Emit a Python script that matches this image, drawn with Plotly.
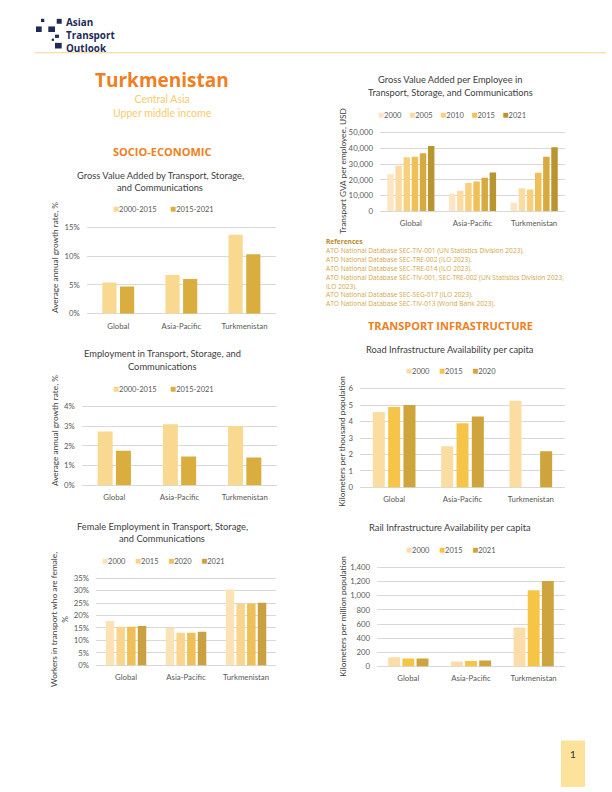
import plotly.graph_objects as go

W, H = 612, 792


def px(x):
    return x / W


def py(y):
    return 1 - y / H


CATS = ["Global", "Asia-Pacific", "Turkmenistan"]

# --- Gross Value Added growth (share) ---
gva_names = ["2000-2015", "2015-2021"]
gva_2000_2015 = [0.054, 0.067, 0.137]
gva_2015_2021 = [0.047, 0.060, 0.103]

# --- Employment growth (share) ---
emp_names = ["2000-2015", "2015-2021"]
emp_2000_2015 = [0.0274, 0.0311, 0.0301]
emp_2015_2021 = [0.0176, 0.0146, 0.0141]

# --- Female employment share ---
fem_names = ["2000", "2015", "2020", "2021"]
fem_2000 = [0.178, 0.151, 0.304]
fem_2015 = [0.155, 0.131, 0.247]
fem_2020 = [0.155, 0.131, 0.248]
fem_2021 = [0.158, 0.135, 0.251]

# --- GVA per employee (USD) ---
gvape_names = ["2000", "2005", "2010", "2015", "2020", "2021"]
gvape_2000 = [23600, 11100, 5400]
gvape_2005 = [28900, 13000, 14600]
gvape_2010 = [34300, 18000, 13800]
gvape_2015 = [34700, 19000, 24500]
gvape_2020 = [36800, 21300, 34700]
gvape_2021 = [41400, 24700, 40600]

# --- Road km per thousand population ---
road_names = ["2000", "2015", "2020"]
road_2000 = [4.58, 2.50, 5.26]
road_2015 = [4.88, 3.90, None]
road_2020 = [5.00, 4.30, 2.20]

# --- Rail km per million population ---
rail_names = ["2000", "2015", "2021"]
rail_2000 = [131, 70, 551]
rail_2015 = [112, 75, 1078]
rail_2021 = [112, 84, 1209]

FONT = "Lato"
HFONT = "Open Sans"
TXT = "#404040"
TICK = "#595959"
GRID = "#D9D9D9"
ORANGE = "#EE7F22"

fig = go.Figure()

charts = [
    dict(series=[gva_2000_2015, gva_2015_2021], names=gva_names,
         colors=["#F9D890", "#D9AD3E"], legend_hide=[], gap=7,
         xpx=(86.7, 276), ypx=(225.7, 313.3), ymax=0.15, dtick=0.05, fmt=".0%",
         w=0.225, g=0.055, leg=(163, 206.7),
         title=["Gross Value Added by Transport, Storage,", "and Communications"],
         tpos=(160, 173, 186), ytitle="Average annual growth rate, %", ypos=(55, 257)),
    dict(series=[emp_2000_2015, emp_2015_2021], names=emp_names,
         colors=["#F9D890", "#D9AD3E"], legend_hide=[], gap=7,
         xpx=(81.7, 277.3), ypx=(407.3, 486.7), ymax=0.04, dtick=0.01, fmt=".0%",
         w=0.23, g=0.05, leg=(163, 388),
         title=["Employment in Transport, Storage, and", "Communications"],
         tpos=(162, 354, 366.7), ytitle="Average annual growth rate, %", ypos=(55, 432)),
    dict(series=[fem_2000, fem_2015, fem_2020, fem_2021], names=fem_names,
         colors=["#FCE3B5", "#F9D48C", "#EFBF58", "#C9A141"], legend_hide=[], gap=5,
         xpx=(96, 276), ypx=(580.7, 669), ymax=0.35, dtick=0.05, fmt=".0%",
         w=0.142, g=0.036, leg=(163, 562),
         title=["Female Employment in Transport, Storage,", "and Communications"],
         tpos=(162, 529, 540.7), ytitle="Workers in transport who are female,<br>%", ypos=(60, 623)),
    dict(series=[gvape_2000, gvape_2005, gvape_2010, gvape_2015, gvape_2020, gvape_2021],
         names=gvape_names,
         colors=["#FDE5C4", "#FADCA3", "#F8CF7C", "#EFC055", "#D7AA3F", "#B8952F"],
         legend_hide=["2020"], gap=4,
         xpx=(380, 565), ypx=(130, 209.7), ymax=50000, dtick=10000, fmt=",",
         w=0.105, g=0.027, leg=(452, 111),
         title=["Gross Value Added per Employee in", "Transport, Storage, and Communications"],
         tpos=(450, 76.7, 90), ytitle="Transport GVA per employee, USD", ypos=(342.7, 169)),
    dict(series=[road_2000, road_2015, road_2020], names=road_names,
         colors=["#FBDDA2", "#F7C44A", "#CFA43C"], legend_hide=[], gap=5,
         xpx=(360, 565), ypx=(389, 489), ymax=6, dtick=1, fmt="",
         w=0.176, g=0.048, leg=(451, 370),
         title=["Road Infrastructure Availability per capita"],
         tpos=(450, 349), ytitle="Kilometers per thousand population", ypos=(341.7, 442)),
    dict(series=[rail_2000, rail_2015, rail_2021], names=rail_names,
         colors=["#FBDDAA", "#F6C546", "#CDA43D"], legend_hide=[], gap=5,
         xpx=(377, 565), ypx=(570, 670), ymax=1400, dtick=200, fmt=",",
         w=0.19, g=0.036, leg=(451, 551),
         title=["Rail Infrastructure Availability per capita"],
         tpos=(450, 530), ytitle="Kilometers per million population", ypos=(342.7, 619)),
]

annotations = []
PAD = 0.02

for k, c in enumerate(charts, start=1):
    sfx = "" if k == 1 else str(k)
    n = len(c["series"])
    total = n * c["w"] + (n - 1) * c["g"]
    for i, (vals, name, col) in enumerate(zip(c["series"], c["names"], c["colors"])):
        fig.add_trace(go.Bar(
            x=CATS, y=vals, name=name,
            marker=dict(color=col, line=dict(width=0)),
            width=c["w"], offset=-total / 2 + i * (c["w"] + c["g"]),
            xaxis="x" + sfx, yaxis="y" + sfx,
            showlegend=False, hoverinfo="skip",
        ))
    top, bot = c["ypx"]
    h = bot - top
    ytop = top - PAD * h
    fig.layout["xaxis" + sfx] = dict(
        domain=[px(c["xpx"][0]), px(c["xpx"][1])], anchor="y" + sfx,
        type="category", showgrid=False, showline=False, zeroline=False,
        ticks="", tickfont=dict(family=FONT, size=7.8, color=TICK),
        ticklabelstandoff=6, fixedrange=True,
    )
    fig.layout["yaxis" + sfx] = dict(
        domain=[py(bot), py(ytop)], anchor="x" + sfx,
        range=[0, c["ymax"] * (1 + PAD)], dtick=c["dtick"], tick0=0,
        tickformat=c["fmt"], showgrid=True, gridcolor=GRID, gridwidth=1,
        zeroline=True, zerolinecolor=GRID, zerolinewidth=1, showline=False,
        ticks="", tickfont=dict(family=FONT, size=7.8, color=TICK),
        ticklabelstandoff=6, fixedrange=True,
    )
    # compact horizontal legend (swatch + label), built from the series names/colours
    sep = "\u00a0" * c["gap"]
    items = [
        '<span style="color:%s;font-size:10px">\u25a0</span>%s' % (col, name)
        for name, col in zip(c["names"], c["colors"]) if name not in c["legend_hide"]
    ]
    annotations.append(dict(
        x=px(c["leg"][0]), y=py(c["leg"][1]), xref="paper", yref="paper",
        text=sep.join(items), showarrow=False, xanchor="center", yanchor="middle",
        font=dict(family=FONT, size=7.5, color=TICK),
    ))
    tx = c["tpos"][0]
    for line, ty in zip(c["title"], c["tpos"][1:]):
        annotations.append(dict(
            x=px(tx), y=py(ty), xref="paper", yref="paper", text=line,
            showarrow=False, xanchor="center", yanchor="middle",
            font=dict(family=FONT, size=9.3, color=TXT),
        ))
    annotations.append(dict(
        x=px(c["ypos"][0]), y=py(c["ypos"][1]), xref="paper", yref="paper",
        text=c["ytitle"], textangle=-90, showarrow=False,
        xanchor="center", yanchor="middle",
        font=dict(family=FONT, size=8.3, color=TXT),
    ))

# ---- page header / decorations ----
NAVY = "#1C2B5A"
shapes = []
logo_squares = [
    (36, 22.7, 41.7, 28.3), (48.3, 22.7, 55, 28.3), (41, 15, 44.3, 18.3),
    (56.7, 15, 61.7, 20), (55, 31, 59, 34.3), (55, 39.3, 61.7, 45),
    (51.7, 35, 54, 37.3),
]
for x0, y0, x1, y1 in logo_squares:
    shapes.append(dict(type="rect", xref="paper", yref="paper",
                       x0=px(x0), x1=px(x1), y0=py(y1), y1=py(y0),
                       fillcolor=NAVY, line=dict(width=0)))
shapes.append(dict(type="line", xref="paper", yref="paper",
                   x0=px(35), x1=px(606), y0=py(49.3), y1=py(49.3),
                   line=dict(color="#F3D68E", width=1)))
shapes.append(dict(type="rect", xref="paper", yref="paper",
                   x0=px(561), x1=px(585), y0=0, y1=py(745),
                   fillcolor="#FCE29A", line=dict(width=0)))

annotations.append(dict(x=px(64), y=py(31), xref="paper", yref="paper",
                        text="<b>Asian<br>Transport<br>Outlook</b>", showarrow=False,
                        xanchor="left", yanchor="middle", align="left",
                        font=dict(family=HFONT, size=9.9, color=NAVY)))

annotations.append(dict(x=px(162), y=py(77.3), xref="paper", yref="paper",
                        text="<b>Turkmenistan</b>", showarrow=False,
                        xanchor="center", yanchor="middle",
                        font=dict(family=HFONT, size=19, color=ORANGE)))
annotations.append(dict(x=px(162), y=py(103.2), xref="paper", yref="paper",
                        text="Central Asia<br>Upper middle income", showarrow=False,
                        xanchor="center", yanchor="middle",
                        font=dict(family=FONT, size=10.5, color="#F5CB6C")))
for t, xx, yy in [("SOCIO-ECONOMIC", 162, 149), ("TRANSPORT INFRASTRUCTURE", 450, 325)]:
    annotations.append(dict(x=px(xx), y=py(yy), xref="paper", yref="paper",
                            text="<b>" + t + "</b>", showarrow=False,
                            xanchor="center", yanchor="middle",
                            font=dict(family=HFONT, size=11, color=ORANGE)))

refs = [
    "ATO National Database SEC-TIV-001 (UN Statistics Division 2023).",
    "ATO National Database SEC-TRE-002 (ILO 2023).",
    "ATO National Database SEC-TRE-014 (ILO 2023).",
    "ATO National Database SEC-TIV-001, SEC-TRE-002 (UN Statistics Division 2023,",
    "ILO 2023).",
    "ATO National Database SEC-SEG-017 (ILO 2023).",
    "ATO National Database SEC-TIV-013 (World Bank 2023).",
]
annotations.append(dict(x=px(323.7), y=py(240.7), xref="paper", yref="paper",
                        text="<b>References</b>", showarrow=False,
                        xanchor="left", yanchor="middle",
                        font=dict(family=HFONT, size=6.6, color="#B88A2C")))
for i, r in enumerate(refs):
    annotations.append(dict(x=px(323.7), y=py(249.3 + i * 9.0), xref="paper", yref="paper",
                            text=r, showarrow=False, xanchor="left", yanchor="middle",
                            font=dict(family=HFONT, size=6.6, color="#D2A548")))

annotations.append(dict(x=px(573), y=py(758.3), xref="paper", yref="paper",
                        text="1", showarrow=False, xanchor="center", yanchor="middle",
                        font=dict(family=FONT, size=10, color="#333333")))

fig.update_layout(
    width=W, height=H, margin=dict(l=0, r=0, t=0, b=0),
    paper_bgcolor="white", plot_bgcolor="white",
    barmode="overlay", showlegend=False,
    annotations=annotations, shapes=shapes,
    font=dict(family=FONT, color=TXT),
)

fig.write_html("out.html", config={"displayModeBar": False, "staticPlot": True},
               post_script="document.body.style.margin='0';")
